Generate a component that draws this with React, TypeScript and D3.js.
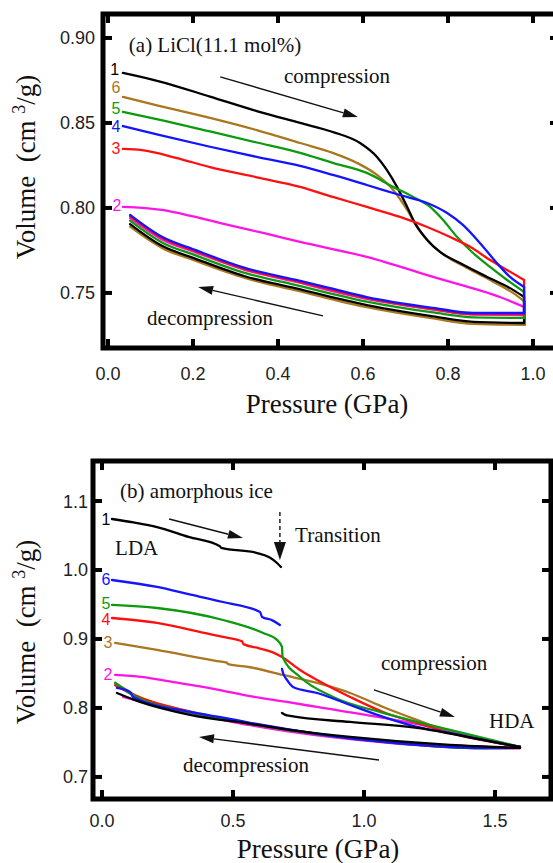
import React from 'react';
import * as d3 from 'd3';

type Pt = [number, number];

const W = 553;
const H = 863;
const SERIF = '"Liberation Serif", "Times New Roman", Times, serif';
const SANS = '"Liberation Sans", Arial, Helvetica, sans-serif';

const BLACK = '#000000';
const MAGENTA = '#ff14e6';
const RED = '#ff1010';
const BLUE = '#1414ff';
const GREEN = '#0e9a0e';
const BROWN = '#a8771e';

// ---- panel (a) LiCl(11.1 mol%) : [pressure GPa, volume cm3/g] ----
const aComp1: Pt[] = [[0.035, 0.8794], [0.12, 0.8745], [0.24, 0.8655], [0.35, 0.857], [0.452, 0.85], [0.529, 0.8447], [0.593, 0.8382], [0.633, 0.83], [0.656, 0.8224], [0.68, 0.8124], [0.704, 0.8006], [0.722, 0.7912], [0.751, 0.7812], [0.781, 0.7741], [0.828, 0.7676], [0.892, 0.7594], [0.953, 0.7518], [0.979, 0.7476]];
const aDecomp1: Pt[] = [[0.979, 0.7323], [0.86, 0.733], [0.765, 0.7362], [0.609, 0.7428], [0.44, 0.7528], [0.322, 0.7598], [0.205, 0.7702], [0.127, 0.7777], [0.052, 0.7905]];
const aComp2: Pt[] = [[0.035, 0.8006], [0.127, 0.7988], [0.2, 0.795], [0.282, 0.79], [0.37, 0.785], [0.452, 0.78], [0.609, 0.7712], [0.765, 0.7594], [0.922, 0.7476], [0.979, 0.7418]];
const aDecomp2: Pt[] = [[0.979, 0.737], [0.86, 0.7372], [0.765, 0.7402], [0.609, 0.7465], [0.44, 0.7566], [0.322, 0.7636], [0.205, 0.774], [0.127, 0.7815], [0.052, 0.794]];
const aComp3: Pt[] = [[0.035, 0.8347], [0.08, 0.834], [0.16, 0.8295], [0.24, 0.824], [0.35, 0.818], [0.452, 0.8124], [0.529, 0.8065], [0.609, 0.8006], [0.687, 0.7947], [0.751, 0.7888], [0.805, 0.7829], [0.852, 0.7771], [0.899, 0.7694], [0.939, 0.7635], [0.979, 0.7576]];
const aDecomp3: Pt[] = [[0.979, 0.7376], [0.86, 0.7376], [0.765, 0.7405], [0.609, 0.7469], [0.52, 0.7523], [0.44, 0.7571], [0.322, 0.764], [0.205, 0.7746], [0.127, 0.7823], [0.052, 0.795]];
const aComp4: Pt[] = [[0.035, 0.8482], [0.12, 0.843], [0.24, 0.836], [0.35, 0.83], [0.452, 0.8247], [0.529, 0.8194], [0.609, 0.8135], [0.687, 0.8076], [0.751, 0.8029], [0.798, 0.797], [0.835, 0.79], [0.875, 0.7794], [0.915, 0.7676], [0.946, 0.7594], [0.979, 0.7535]];
const aDecomp4: Pt[] = [[0.979, 0.7382], [0.86, 0.7382], [0.765, 0.7412], [0.609, 0.7476], [0.52, 0.753], [0.44, 0.7578], [0.322, 0.7647], [0.205, 0.7753], [0.127, 0.783], [0.052, 0.7959]];
const aComp5: Pt[] = [[0.035, 0.8565], [0.12, 0.852], [0.24, 0.845], [0.35, 0.8385], [0.452, 0.8324], [0.529, 0.8265], [0.609, 0.8206], [0.671, 0.8124], [0.718, 0.8065], [0.758, 0.8006], [0.788, 0.793], [0.821, 0.783], [0.859, 0.7735], [0.899, 0.7653], [0.939, 0.7576], [0.979, 0.7506]];
const aDecomp5: Pt[] = [[0.979, 0.7353], [0.86, 0.7356], [0.765, 0.7385], [0.609, 0.7449], [0.44, 0.7548], [0.322, 0.7618], [0.205, 0.7722], [0.127, 0.7797], [0.052, 0.7925]];
const aComp6: Pt[] = [[0.035, 0.8653], [0.12, 0.86], [0.24, 0.853], [0.35, 0.8458], [0.452, 0.8382], [0.529, 0.8324], [0.586, 0.8265], [0.633, 0.8194], [0.671, 0.8106], [0.704, 0.7988], [0.727, 0.7888], [0.758, 0.7794], [0.798, 0.7712], [0.845, 0.7647], [0.899, 0.7576], [0.953, 0.75], [0.981, 0.7447]];
const aDecomp6: Pt[] = [[0.981, 0.7312], [0.86, 0.7318], [0.765, 0.735], [0.609, 0.7416], [0.44, 0.7517], [0.322, 0.7588], [0.205, 0.769], [0.127, 0.7765], [0.052, 0.789]];

// ---- panel (b) amorphous ice ----
const bLDA1: Pt[] = [[0.038, 1.0739], [0.12, 1.069], [0.21, 1.0623], [0.33, 1.048], [0.45, 1.0345], [0.455, 1.032], [0.592, 1.0246], [0.64, 1.018], [0.668, 1.0101], [0.683, 1.0043]];
const bHDA1: Pt[] = [[0.687, 0.7928], [0.7, 0.79], [0.718, 0.7884], [0.947, 0.7797], [1.202, 0.771], [1.454, 0.7536], [1.595, 0.7435]];
const bDecomp1: Pt[] = [[1.595, 0.742], [1.328, 0.7464], [0.947, 0.758], [0.72, 0.768], [0.565, 0.777], [0.336, 0.7899], [0.145, 0.8087], [0.057, 0.8217]];
const bComp2: Pt[] = [[0.05, 0.848], [0.15, 0.845], [0.28, 0.837], [0.45, 0.826], [0.565, 0.817], [0.7, 0.809], [0.821, 0.8014], [1.073, 0.7855], [1.225, 0.775], [1.328, 0.7652], [1.595, 0.7435]];
const bDecomp2: Pt[] = [[1.595, 0.7415], [1.454, 0.7415], [1.073, 0.75], [0.565, 0.775], [0.336, 0.793], [0.12, 0.812], [0.08, 0.816]];
const bComp3: Pt[] = [[0.05, 0.8942], [0.21, 0.8841], [0.462, 0.8667], [0.475, 0.866], [0.48, 0.864], [0.565, 0.859], [0.691, 0.8478], [0.821, 0.8362], [0.947, 0.8217], [1.073, 0.8014], [1.202, 0.7826], [1.328, 0.7652], [1.454, 0.7536], [1.595, 0.7435]];
const bDecomp3: Pt[] = [[1.595, 0.7425], [1.073, 0.7515], [0.565, 0.778], [0.336, 0.795], [0.12, 0.82], [0.05, 0.8365]];
const bComp4: Pt[] = [[0.038, 0.9304], [0.21, 0.9232], [0.4, 0.908], [0.462, 0.9029], [0.535, 0.8965], [0.54, 0.8925], [0.6, 0.8865], [0.65, 0.881], [0.687, 0.874], [0.756, 0.855], [0.821, 0.8406], [0.947, 0.816], [1.073, 0.7942], [1.202, 0.7783], [1.328, 0.7638], [1.595, 0.7435]];
const bDecomp4: Pt[] = [[1.595, 0.742], [1.454, 0.742], [1.073, 0.7512], [0.565, 0.7775], [0.336, 0.7945], [0.12, 0.819], [0.05, 0.833]];
const bComp5: Pt[] = [[0.038, 0.9493], [0.21, 0.9449], [0.462, 0.9275], [0.615, 0.9087], [0.668, 0.8986], [0.687, 0.8884], [0.689, 0.874], [0.756, 0.8449], [0.882, 0.8159], [1.073, 0.7928], [1.328, 0.7681], [1.595, 0.7435]];
const bDecomp5: Pt[] = [[1.595, 0.742], [1.454, 0.7415], [1.073, 0.751], [0.565, 0.777], [0.336, 0.7935], [0.12, 0.818], [0.05, 0.8362]];
const bComp6a: Pt[] = [[0.038, 0.9855], [0.21, 0.9754], [0.33, 0.965], [0.462, 0.9536], [0.603, 0.9391], [0.611, 0.9319], [0.65, 0.927], [0.679, 0.9203]];
const bComp6b: Pt[] = [[0.687, 0.8565], [0.691, 0.8507], [0.706, 0.8406], [0.729, 0.8304], [0.821, 0.8217], [0.947, 0.8043], [1.073, 0.787], [1.202, 0.7725], [1.328, 0.7638], [1.454, 0.7536], [1.595, 0.7435]];
const bDecomp6: Pt[] = [[1.595, 0.742], [1.454, 0.742], [1.073, 0.7507], [0.565, 0.7785], [0.462, 0.786], [0.336, 0.7942], [0.118, 0.816], [0.107, 0.8232], [0.057, 0.829]];

const aXTicks = [0, 0.2, 0.4, 0.6, 0.8, 1.0];
const aYTicks = [0.75, 0.8, 0.85, 0.9];
const bXTicks = [0, 0.5, 1.0, 1.5];
const bYTicks = [0.7, 0.8, 0.9, 1.0, 1.1];

// parts are drawn smooth; join[i] = straight link from the end of part i to the start of part i+1
interface Run { color: string; parts: Pt[][]; join: boolean[] }
interface Label { text: string; color: string; p: number; v: number }
interface Note { text: string; p: number; v: number }
interface Arr { p1: number; v1: number; p2: number; v2: number; dashed?: boolean }
interface Frame { left: number; right: number; top: number; bottom: number }

const aRuns: Run[] = [
  { color: MAGENTA, parts: [aComp2, aDecomp2], join: [true] },
  { color: BROWN, parts: [aComp6, aDecomp6], join: [true] },
  { color: BLACK, parts: [aComp1, aDecomp1], join: [true] },
  { color: GREEN, parts: [aComp5, aDecomp5], join: [true] },
  { color: RED, parts: [aComp3, aDecomp3], join: [true] },
  { color: BLUE, parts: [aComp4, aDecomp4], join: [true] },
];
const aLabels: Label[] = [
  { text: '1', color: BLACK, p: 0.016, v: 0.8812 },
  { text: '6', color: BROWN, p: 0.019, v: 0.8706 },
  { text: '5', color: GREEN, p: 0.019, v: 0.8585 },
  { text: '4', color: BLUE, p: 0.019, v: 0.8478 },
  { text: '3', color: RED, p: 0.019, v: 0.8347 },
  { text: '2', color: MAGENTA, p: 0.021, v: 0.8012 },
];
const aNotes: Note[] = [
  { text: '(a) LiCl(11.1 mol%)', p: 0.049, v: 0.8918 },
  { text: 'compression', p: 0.414, v: 0.8735 },
  { text: 'decompression', p: 0.092, v: 0.7312 },
];
const aArrows: Arr[] = [
  { p1: 0.264, v1: 0.8771, p2: 0.588, v2: 0.8535 },
  { p1: 0.506, v1: 0.7365, p2: 0.212, v2: 0.7535 },
];

const bRuns: Run[] = [
  { color: MAGENTA, parts: [bComp2, bDecomp2], join: [true] },
  { color: BROWN, parts: [bComp3, bDecomp3], join: [true] },
  { color: RED, parts: [bComp4, bDecomp4], join: [true] },
  { color: GREEN, parts: [bComp5, bDecomp5], join: [true] },
  { color: BLUE, parts: [bComp6a, bComp6b, bDecomp6], join: [false, true] },
  { color: BLACK, parts: [bLDA1, bHDA1, bDecomp1], join: [false, true] },
];
const bLabels: Label[] = [
  { text: '1', color: BLACK, p: 0.015, v: 1.0739 },
  { text: '6', color: BLUE, p: 0.015, v: 0.9855 },
  { text: '5', color: GREEN, p: 0.015, v: 0.952 },
  { text: '4', color: RED, p: 0.015, v: 0.928 },
  { text: '3', color: BROWN, p: 0.023, v: 0.8942 },
  { text: '2', color: MAGENTA, p: 0.023, v: 0.8478 },
];
const bNotes: Note[] = [
  { text: '(b) amorphous ice', p: 0.069, v: 1.1043 },
  { text: 'LDA', p: 0.05, v: 1.0217 },
  { text: 'Transition', p: 0.737, v: 1.0406 },
  { text: 'compression', p: 1.065, v: 0.8551 },
  { text: 'HDA', p: 1.477, v: 0.771 },
  { text: 'decompression', p: 0.309, v: 0.7072 },
];
const bArrows: Arr[] = [
  { p1: 0.256, v1: 1.0739, p2: 0.538, v2: 1.0464 },
  { p1: 0.679, v1: 1.084, p2: 0.679, v2: 1.0145, dashed: true },
  { p1: 1.038, v1: 0.8261, p2: 1.347, v2: 0.787 },
  { p1: 1.057, v1: 0.7246, p2: 0.37, v2: 0.758 },
];

const head = (x1: number, y1: number, x2: number, y2: number, len: number, half: number) => {
  const a = Math.atan2(y2 - y1, x2 - x1);
  const bx = x2 - len * Math.cos(a);
  const by = y2 - len * Math.sin(a);
  const px = -Math.sin(a) * half;
  const py = Math.cos(a) * half;
  return { bx, by, pts: `${x2},${y2} ${bx + px},${by + py} ${bx - px},${by - py}` };
};

function Panel(props: {
  frame: Frame; xDom: [number, number]; yDom: [number, number];
  xTicks: number[]; yTicks: number[]; xFmt: (n: number) => string; yFmt: (n: number) => string;
  runs: Run[]; labels: Label[]; notes: Note[]; arrows: Arr[];
  xLabBase: number; yLabRight: number; xTitleY: number; yTitleY: number;
}) {
  const { frame, runs, labels, notes, arrows } = props;
  const x = d3.scaleLinear().domain(props.xDom).range([frame.left, frame.right]);
  const y = d3.scaleLinear().domain(props.yDom).range([frame.bottom, frame.top]);
  const smooth = d3.line<Pt>().x(d => x(d[0])).y(d => y(d[1])).curve(d3.curveMonotoneX);
  const straight = d3.line<Pt>().x(d => x(d[0])).y(d => y(d[1]));
  const tl = 9;
  const cx = (frame.left + frame.right) / 2;
  const serif = { fontFamily: SERIF };
  const sans = { fontFamily: SANS };

  return (
    <g>
      {runs.map((r, i) => (
        <g key={'r' + i} fill="none" stroke={r.color} strokeWidth={2.3} strokeLinejoin="round" strokeLinecap="round">
          {r.parts.map((s, j) => <path key={'p' + j} d={smooth(s) ?? ''} />)}
          {r.join.map((on, j) => on
            ? <path key={'j' + j} d={straight([r.parts[j][r.parts[j].length - 1], r.parts[j + 1][0]]) ?? ''} />
            : null)}
        </g>
      ))}

      {/* frame and inward ticks */}
      <rect x={frame.left} y={frame.top} width={frame.right - frame.left} height={frame.bottom - frame.top}
        fill="none" stroke="#000" strokeWidth={5} />
      {props.xTicks.map(t => (
        <g key={'x' + t}>
          <line x1={x(t)} x2={x(t)} y1={frame.bottom} y2={frame.bottom - tl} stroke="#000" strokeWidth={4} />
          <line x1={x(t)} x2={x(t)} y1={frame.top} y2={frame.top + tl} stroke="#000" strokeWidth={4} />
          <text x={x(t)} y={frame.bottom + props.xLabBase} textAnchor="middle" style={sans} fontSize={18} fill="#222">
            {props.xFmt(t)}
          </text>
        </g>
      ))}
      {props.yTicks.map(t => (
        <g key={'y' + t}>
          <line x1={frame.left} x2={frame.left + tl} y1={y(t)} y2={y(t)} stroke="#000" strokeWidth={4} />
          <line x1={frame.right} x2={frame.right - tl} y1={y(t)} y2={y(t)} stroke="#000" strokeWidth={4} />
          <text x={props.yLabRight} y={y(t) + 6.5} textAnchor="end" style={sans} fontSize={18} fill="#222">
            {props.yFmt(t)}
          </text>
        </g>
      ))}

      {labels.map(l => (
        <text key={l.text} x={x(l.p)} y={y(l.v) + 5.5} textAnchor="middle" style={sans} fontSize={16} fill={l.color}>
          {l.text}
        </text>
      ))}
      {notes.map(n => (
        <text key={n.text} x={x(n.p)} y={y(n.v)} style={serif} fontSize={21} fill="#111">{n.text}</text>
      ))}
      {arrows.map((a, i) => {
        const x1 = x(a.p1), y1 = y(a.v1), x2 = x(a.p2), y2 = y(a.v2);
        const h = a.dashed ? head(x1, y1, x2, y2, 18, 6) : head(x1, y1, x2, y2, 15, 4.5);
        return (
          <g key={'a' + i}>
            <line x1={x1} y1={y1} x2={h.bx} y2={h.by} stroke="#111" strokeWidth={1.4}
              strokeDasharray={a.dashed ? '4 3' : undefined} />
            <polygon points={h.pts} fill="#111" />
          </g>
        );
      })}

      <text x={cx - 4} y={props.xTitleY} textAnchor="middle" style={serif} fontSize={27} fill="#111">Pressure (GPa)</text>
      <text transform={`translate(35,${props.yTitleY}) rotate(-90)`} textAnchor="middle"
        fontSize={27} fill="#111" style={{ fontFamily: SERIF, whiteSpace: 'pre' }}>
        {'Volume  (cm '}
        <tspan fontSize={18} dy={-10}>3</tspan>
        <tspan dy={10}>/g)</tspan>
      </text>
    </g>
  );
}

export default function App() {
  return (
    <svg width={W} height={H} style={{ position: 'absolute', left: 0, top: 0, background: '#fff' }}>
      <Panel
        frame={{ left: 103, right: 559, top: 14, bottom: 348 }}
        xDom={[-0.01176, 1.0612]} yDom={[0.7176, 0.9141]}
        xTicks={aXTicks} yTicks={aYTicks}
        xFmt={d3.format('.1f')} yFmt={d3.format('.2f')}
        runs={aRuns} labels={aLabels} notes={aNotes} arrows={aArrows}
        xLabBase={32} yLabRight={95} xTitleY={413} yTitleY={167}
      />
      <Panel
        frame={{ left: 93, right: 551, top: 461, bottom: 799 }}
        xDom={[-0.0344, 1.7137]} yDom={[0.668, 1.158]}
        xTicks={bXTicks} yTicks={bYTicks}
        xFmt={d3.format('.1f')} yFmt={d3.format('.1f')}
        runs={bRuns} labels={bLabels} notes={bNotes} arrows={bArrows}
        xLabBase={28} yLabRight={88} xTitleY={858} yTitleY={632}
      />
    </svg>
  );
}
